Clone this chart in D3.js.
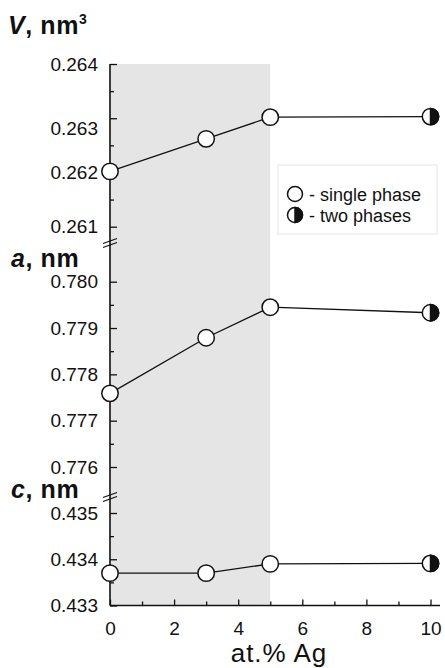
<!DOCTYPE html>
<html>
<head>
<meta charset="utf-8">
<script src="https://cdn.jsdelivr.net/npm/d3@7"></script>
<style>
  html, body { margin: 0; padding: 0; background: #fff; }
  svg { display: block; font-family: "Liberation Sans", Arial, sans-serif; }
</style>
</head>
<body>
<svg id="chart" width="445" height="668"></svg>
<script>
// ---- data ----
const agContent = [0, 3, 5, 10];
const phases = ["single", "single", "single", "two"];
const volumeV = [0.26202, 0.26262, 0.26302, 0.26303];
const latticeA = [0.77759, 0.77879, 0.77945, 0.77933];
const latticeC = [0.43370, 0.43370, 0.43390, 0.43391];
const xTicks = [0, 2, 4, 6, 8, 10];
const xMinorTicks = [1, 3, 5, 7, 9];
const vTicks = [0.261, 0.262, 0.263, 0.264];
const vMinor = [0.2615, 0.2625, 0.2635];
const aTicks = [0.776, 0.777, 0.778, 0.779, 0.780];
const aMinor = [0.7765, 0.7775, 0.7785, 0.7795];
const cTicks = [0.433, 0.434, 0.435];
const cMinor = [0.4335, 0.4345];
const singlePhaseRange = [0, 5];
const legendItems = ["- single phase", "- two phases"];

// ---- layout ----
const svg = d3.select("#chart");
const mLeft = 110, mRight = 430.5, mTop = 64, mBottom = 605.5;
const x = d3.scaleLinear().domain([0, 10]).range([mLeft, mRight]);
const yV = d3.scaleLinear().domain([0.261, 0.264]).range([226.7, mTop]);
const yA = d3.scaleLinear().domain([0.776, 0.780]).range([467, 281.7]);
const yC = d3.scaleLinear().domain([0.433, 0.435]).range([mBottom, 513]);
const breaks = [243, 497];

// shaded single-phase region
svg.append("rect")
  .attr("x", x(singlePhaseRange[0])).attr("y", mTop)
  .attr("width", x(singlePhaseRange[1]) - x(singlePhaseRange[0]))
  .attr("height", mBottom - mTop)
  .attr("fill", "#e5e5e5");

// y axes
function yAxis(scale, ticks, minor) {
  const g = svg.append("g").attr("transform", `translate(${mLeft},0)`);
  g.call(d3.axisLeft(scale).tickValues(ticks).tickSize(-7).tickPadding(12)
    .tickFormat(d3.format(".3f")));
  g.append("g").call(d3.axisLeft(scale).tickValues(minor).tickSize(-4).tickFormat(""));
  g.selectAll(".domain").remove();
  g.selectAll("line").attr("stroke", "#111").attr("stroke-width", 1.3);
  g.selectAll("text").attr("font-size", 19).attr("fill", "#111")
    .attr("font-family", "Liberation Sans, Arial, sans-serif");
  return g;
}
const gV = yAxis(yV, vTicks, vMinor);
// the 0.263 label sits a little below its tick in the original
gV.selectAll(".tick text").filter(d => d === 0.263).attr("y", 10);
yAxis(yA, aTicks, aMinor);
yAxis(yC, cTicks, cMinor);

// x axis
const gx = svg.append("g").attr("transform", `translate(0,${mBottom})`);
gx.call(d3.axisBottom(x).tickValues(xTicks).tickSize(-6).tickPadding(16).tickFormat(d3.format("d")));
gx.append("g").call(d3.axisBottom(x).tickValues(xMinorTicks).tickSize(-4).tickFormat(""));
gx.selectAll(".domain").remove();
gx.selectAll("line").attr("stroke", "#111").attr("stroke-width", 1.3);
gx.selectAll("text").attr("font-size", 19).attr("fill", "#111")
  .attr("font-family", "Liberation Sans, Arial, sans-serif");

// axis lines
svg.append("line").attr("x1", mLeft).attr("x2", mLeft).attr("y1", mTop).attr("y2", mBottom)
  .attr("stroke", "#111").attr("stroke-width", 1.6);
svg.append("line").attr("x1", mLeft).attr("x2", 440).attr("y1", mBottom).attr("y2", mBottom)
  .attr("stroke", "#111").attr("stroke-width", 1.6);

// break marks
breaks.forEach(b => {
  [-2, 2].forEach(off => {
    svg.append("line")
      .attr("x1", mLeft - 7).attr("y1", b + off + 2.5)
      .attr("x2", mLeft + 7).attr("y2", b + off - 2.5)
      .attr("stroke", "#111").attr("stroke-width", 1.3);
  });
});

// series
function marker(cx, cy, r, p) {
  svg.append("circle").attr("cx", cx).attr("cy", cy).attr("r", r)
    .attr("fill", "#fff").attr("stroke", "#111").attr("stroke-width", 1.5);
  if (p === "two") {
    svg.append("path")
      .attr("d", `M${cx},${cy - r} A${r},${r} 0 0 1 ${cx},${cy + r} Z`)
      .attr("fill", "#111").attr("stroke", "#111").attr("stroke-width", 1.5);
  }
}
function series(vals, scale) {
  const pts = agContent.map((d, i) => ({ x: d, y: vals[i], p: phases[i] }));
  svg.append("path").datum(pts)
    .attr("d", d3.line().x(d => x(d.x)).y(d => scale(d.y)))
    .attr("fill", "none").attr("stroke", "#111").attr("stroke-width", 1.3);
  pts.forEach(d => marker(x(d.x), scale(d.y), 8.2, d.p));
}
series(volumeV, yV);
series(latticeA, yA);
series(latticeC, yC);

// panel labels
function panelLabel(xp, yp, sym, unit, sup) {
  const t = svg.append("text").attr("x", xp).attr("y", yp)
    .attr("font-size", 25).attr("font-weight", "bold").attr("fill", "#111")
    .attr("letter-spacing", 0.6);
  t.append("tspan").attr("font-style", "italic").text(sym);
  t.append("tspan").text(unit);
  if (sup) t.append("tspan").attr("font-size", 14).attr("dy", -10).text(sup);
}
panelLabel(8, 34, "V", ", nm", "3");
panelLabel(11, 267, "a", ", nm", null);
panelLabel(11, 498, "c", ", nm", null);

// x axis title
svg.append("text").attr("x", 279).attr("y", 662).attr("text-anchor", "middle")
  .attr("font-size", 26).attr("fill", "#111").attr("letter-spacing", 1)
  .text("at.% Ag");

// legend
svg.append("rect").attr("x", 278).attr("y", 165).attr("width", 159).attr("height", 69)
  .attr("fill", "#fff").attr("stroke", "#e6e6e6").attr("stroke-width", 1);
legendItems.forEach((txt, i) => {
  const cy = 194 + i * 21;
  marker(295, cy, 7.5, i === 0 ? "single" : "two");
  svg.append("text").attr("x", 309).attr("y", cy + 7)
    .attr("font-size", 18).attr("fill", "#111").text(txt);
});
</script>
</body>
</html>
